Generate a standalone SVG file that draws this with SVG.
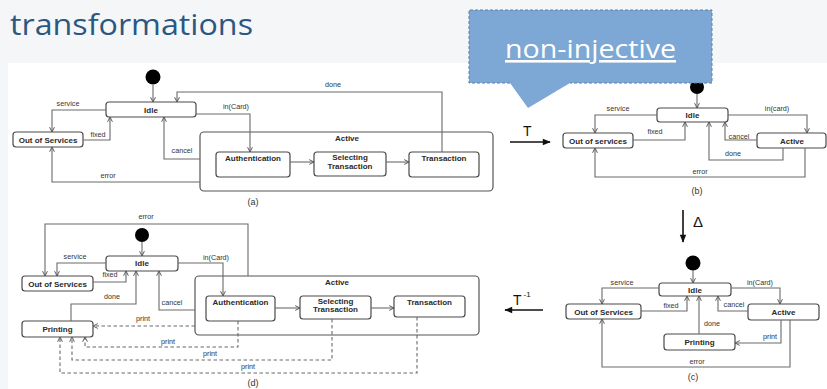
<svg xmlns="http://www.w3.org/2000/svg" width="827" height="389" viewBox="0 0 827 389">
  <defs>
    <style>
      .box { fill: #fff; stroke: #4a4a4a; stroke-width: 1.2; }
      .frame { fill: #fff; stroke: #555; stroke-width: 1.2; }
      .ln { fill: none; stroke: #6a6a6a; stroke-width: 1.1; marker-end: url(#ah); }
      .dash { fill: none; stroke: #6a6a6a; stroke-width: 1.1; stroke-dasharray: 3.5 2.5; marker-end: url(#ah); }
      .nm { font-family: "Liberation Sans", Arial, sans-serif; font-weight: bold; font-size: 8px; fill: #2a2a2a; text-anchor: middle; }
      .lb { font-family: "Liberation Sans", Arial, sans-serif; font-size: 7.2px; fill: #333; text-anchor: middle; }
      .cap { font-family: "Liberation Sans", Arial, sans-serif; font-size: 9px; fill: #333; text-anchor: middle; }
      .big { font-family: "Liberation Sans", Arial, sans-serif; fill: #111; }
      .dot { fill: #000; }
      .op { fill: none; stroke: #111; stroke-width: 1.6; marker-end: url(#fh); }
    </style>
    <marker id="ah" viewBox="0 0 10 10" refX="9" refY="5" markerWidth="6" markerHeight="6" markerUnits="userSpaceOnUse" orient="auto">
      <path d="M1,1 L9,5 L1,9" fill="none" stroke="#555" stroke-width="1.6"/>
    </marker>
    <marker id="fh" viewBox="0 0 10 10" refX="9" refY="5" markerWidth="11" markerHeight="8" markerUnits="userSpaceOnUse" orient="auto">
      <path d="M0,1 L10,5 L0,9 Z" fill="#111"/>
    </marker>
  </defs>

  <!-- slide background and picture area -->
  <rect x="0" y="0" width="827" height="389" fill="#f5f6f7"/>
  <rect x="8" y="63" width="819" height="326" fill="#fff"/>

  <text x="10" y="35" font-family="'Open Sans', 'Noto Sans', sans-serif" font-size="30" fill="#2b5783" textLength="243" lengthAdjust="spacingAndGlyphs">transformations</text>

  <!-- ===== (a) original machine ===== -->
  <g id="a-active"><rect class="frame" x="200" y="132" width="293" height="59" rx="4"/><text class="nm" x="347" y="141">Active</text></g>
  <g id="a-init"><circle class="dot" cx="153" cy="77" r="7.5"/></g>
  <g id="a-idle"><rect class="box" x="106" y="102" width="90" height="15" rx="3"/><text class="nm" x="151" y="112.5">Idle</text></g>
  <g id="a-out"><rect class="box" x="13" y="132" width="70" height="15" rx="3"/><text class="nm" x="48" y="142.5">Out of Services</text></g>
  <g id="a-auth"><rect class="box" x="216" y="152" width="74" height="25" rx="3"/><text class="nm" x="253" y="161">Authentication</text></g>
  <g id="a-sel"><rect class="box" x="314" y="152" width="72" height="24" rx="3"/><text class="nm" x="350" y="160">Selecting</text><text class="nm" x="350" y="168.5">Transaction</text></g>
  <g id="a-trans"><rect class="box" x="409" y="152" width="70" height="25" rx="3"/><text class="nm" x="444" y="161">Transaction</text></g>
  <g id="a-edges">
    <path class="ln" d="M153,85 V102"/>
    <path class="ln" d="M106,110 H52 V132"/>
    <path class="ln" d="M83,140 H110 V117"/>
    <path class="ln" d="M200,159 H164 V117"/>
    <path class="ln" d="M200,182 H52 V147"/>
    <path class="ln" d="M196,114 H250 V152"/>
    <path class="ln" d="M290,162 H314"/>
    <path class="ln" d="M386,162 H409"/>
    <path class="ln" d="M442,152 V92 H177 V102"/>
    <text class="lb" x="68" y="106">service</text>
    <text class="lb" x="98" y="137">fixed</text>
    <text class="lb" x="182" y="153">cancel</text>
    <text class="lb" x="108" y="178">error</text>
    <text class="lb" x="236" y="109">in(Card)</text>
    <text class="lb" x="333" y="87">done</text>
  </g>
  <text class="cap" x="253" y="205">(a)</text>

  <!-- ===== (b) abstracted machine ===== -->
  <g id="b-init"><circle class="dot" cx="697" cy="87" r="7"/></g>
  <g id="b-idle"><rect class="box" x="657" y="108" width="71" height="14" rx="3"/><text class="nm" x="692.5" y="118">Idle</text></g>
  <g id="b-out"><rect class="box" x="563" y="133" width="70" height="15" rx="3"/><text class="nm" x="598" y="143.5">Out of services</text></g>
  <g id="b-active"><rect class="box" x="757" y="133" width="69" height="15" rx="3"/><text class="nm" x="792" y="143.5">Active</text></g>
  <g id="b-edges">
    <path class="ln" d="M697,94 V108"/>
    <path class="ln" d="M657,115 H595 V133"/>
    <path class="ln" d="M633,140 H685 V122"/>
    <path class="ln" d="M728,115 H807 V133"/>
    <path class="ln" d="M757,140 H725 V122"/>
    <path class="ln" d="M783,148 V160 H709 V122"/>
    <path class="ln" d="M805,148 V177 H595 V148"/>
    <text class="lb" x="618" y="111">service</text>
    <text class="lb" x="655" y="134">fixed</text>
    <text class="lb" x="777" y="111">in(card)</text>
    <text class="lb" x="739" y="139">cancel</text>
    <text class="lb" x="733" y="156">done</text>
    <text class="lb" x="700" y="174">error</text>
  </g>
  <text class="cap" x="697" y="194">(b)</text>

  <!-- ===== (c) changed abstraction ===== -->
  <g id="c-init"><circle class="dot" cx="693" cy="263" r="7.5"/></g>
  <g id="c-idle"><rect class="box" x="659" y="283" width="72" height="13" rx="3"/><text class="nm" x="695" y="292.5">Idle</text></g>
  <g id="c-out"><rect class="box" x="566" y="304" width="75" height="15" rx="3"/><text class="nm" x="603.5" y="314.5">Out of Services</text></g>
  <g id="c-active"><rect class="box" x="748" y="304" width="71" height="16" rx="3"/><text class="nm" x="783.5" y="315">Active</text></g>
  <g id="c-print"><rect class="box" x="664" y="334" width="71" height="16" rx="3"/><text class="nm" x="699.5" y="345">Printing</text></g>
  <g id="c-edges">
    <path class="ln" d="M693,270 V283"/>
    <path class="ln" d="M659,288 H602 V304"/>
    <path class="ln" d="M641,311 H687 V296"/>
    <path class="ln" d="M699,334 V296"/>
    <path class="ln" d="M731,288 H780 V304"/>
    <path class="ln" d="M748,311 H718 V296"/>
    <path class="ln" d="M781,320 V343 H735"/>
    <path class="ln" d="M790,320 V367 H602 V319"/>
    <text class="lb" x="622" y="285">service</text>
    <text class="lb" x="671" y="308">fixed</text>
    <text class="lb" x="712" y="326">done</text>
    <text class="lb" x="760" y="285">in(Card)</text>
    <text class="lb" x="734" y="307">cancel</text>
    <text class="lb" x="770" y="339">print</text>
    <text class="lb" x="697" y="364">error</text>
  </g>
  <text class="cap" x="693" y="380">(c)</text>

  <!-- ===== (d) propagated back ===== -->
  <g id="d-active"><rect class="frame" x="195" y="276" width="284" height="59" rx="4"/><text class="nm" x="337" y="285">Active</text></g>
  <g id="d-init"><circle class="dot" cx="142" cy="235" r="7"/></g>
  <g id="d-idle"><rect class="box" x="106" y="256" width="72" height="15" rx="3"/><text class="nm" x="142" y="266">Idle</text></g>
  <g id="d-out"><rect class="box" x="22" y="276" width="71" height="15" rx="3"/><text class="nm" x="57.5" y="286.5">Out of Services</text></g>
  <g id="d-print"><rect class="box" x="22" y="321" width="71" height="16" rx="3"/><text class="nm" x="57.5" y="332">Printing</text></g>
  <g id="d-auth"><rect class="box" x="206" y="296" width="69" height="25" rx="3"/><text class="nm" x="240.5" y="304.5">Authentication</text></g>
  <g id="d-sel"><rect class="box" x="300" y="296" width="71" height="23" rx="3"/><text class="nm" x="335.5" y="303.5">Selecting</text><text class="nm" x="335.5" y="312">Transaction</text></g>
  <g id="d-trans"><rect class="box" x="394" y="296" width="71" height="21" rx="3"/><text class="nm" x="429.5" y="304.5">Transaction</text></g>
  <g id="d-edges">
    <path class="ln" d="M142,242 V256"/>
    <path class="ln" d="M248,276 V224 H45 V276"/>
    <path class="ln" d="M106,263 H57 V276"/>
    <path class="ln" d="M93,282 H126 V271"/>
    <path class="ln" d="M178,263 H223 V296"/>
    <path class="ln" d="M195,310 H159 V271"/>
    <path class="ln" d="M71,321 V304 H136 V271"/>
    <path class="ln" d="M275,308 H300"/>
    <path class="ln" d="M371,308 H394"/>
    <path class="dash" d="M195,326 H93"/>
    <path class="dash" d="M238,321 V347 H85 V337"/>
    <path class="dash" d="M332,319 V360 H72 V337"/>
    <path class="dash" d="M417,317 V373 H60 V337"/>
    <text class="lb" x="146" y="219">error</text>
    <text class="lb" x="75" y="259">service</text>
    <text class="lb" x="110" y="277">fixed</text>
    <text class="lb" x="216" y="260">in(Card)</text>
    <text class="lb" x="172" y="305">cancel</text>
    <text class="lb" x="112" y="299">done</text>
    <text class="lb" x="143" y="321">print</text>
    <text class="lb" x="168" y="344">print</text>
    <text class="lb" x="210" y="356">print</text>
    <text class="lb" x="248" y="369">print</text>
  </g>
  <text class="cap" x="253" y="386">(d)</text>

  <!-- ===== transformation arrows ===== -->
  <g id="op-T"><path class="op" d="M510,142 H550"/><text class="big" x="523" y="136" style="font-size:14px">T</text></g>
  <g id="op-delta"><path class="op" d="M683,210 V242"/><text class="big" x="693" y="227" style="font-size:15px">Δ</text></g>
  <g id="op-Tinv"><path class="op" d="M543,310 H505"/><text class="big" x="513" y="305" style="font-size:14px">T</text><text class="big" x="523.5" y="297" style="font-size:8px">-1</text></g>

  <!-- ===== callout ===== -->
  <g id="callout">
    <path d="M469,10 H712 V83 H570 L528,108 L510,83 H469 Z" fill="#7da8d5"/>
    <path d="M510,83 H469 V10 H712 V83 H570" fill="none" stroke="#5a7ea6" stroke-width="1" stroke-dasharray="3 2"/>
    <text x="505" y="58" font-family="'Open Sans', 'Noto Sans', sans-serif" font-size="26" fill="#fff" text-decoration="underline" textLength="171" lengthAdjust="spacingAndGlyphs">non-injective</text>
  </g>
</svg>
